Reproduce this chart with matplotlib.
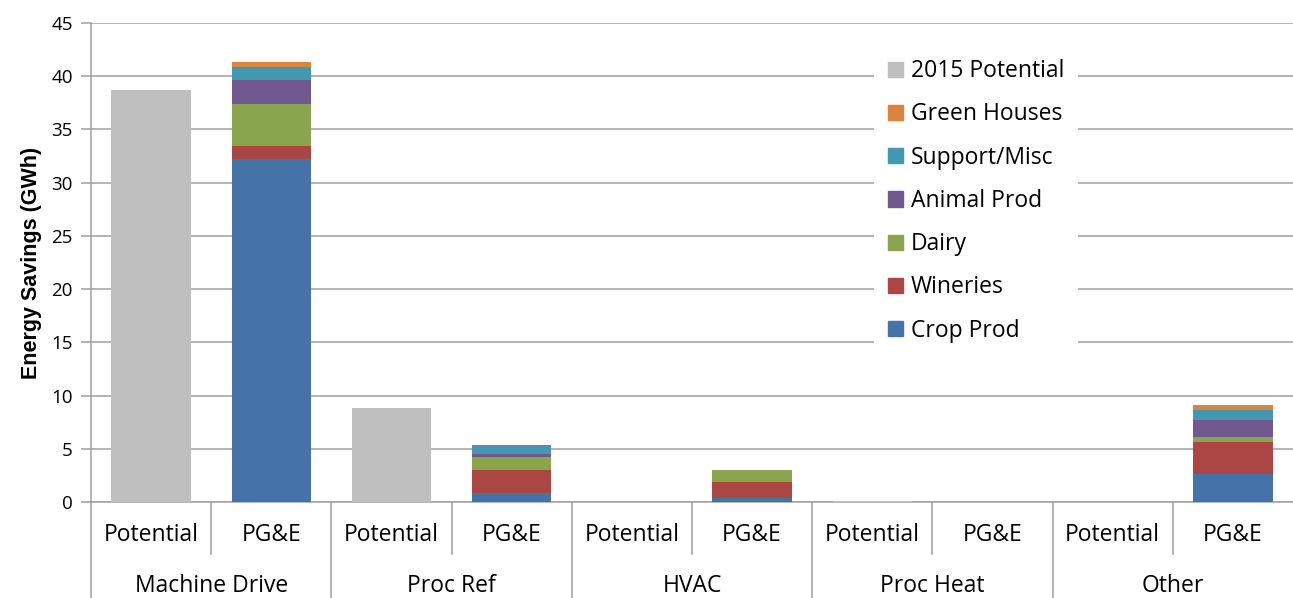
import matplotlib
matplotlib.use('Agg')
import matplotlib.pyplot as plt
import matplotlib.transforms as mtransforms
from matplotlib.patches import Patch
import numpy as np

plt.rcParams['font.family'] = ['Open Sans', 'DejaVu Sans']

# end uses and the two bars per end use
categories = ['Machine Drive', 'Proc Ref', 'HVAC', 'Proc Heat', 'Other']
bar_labels = ['Potential', 'PG&E']

# 2015 potential (GWh)
potential_2015 = [38.7, 8.8, 0.0, 0.1, 0.0]

# PG&E savings by segment (GWh)
crop_prod = [32.2, 0.85, 0.35, 0.0, 2.6]
wineries = [1.2, 2.15, 1.55, 0.0, 3.0]
dairy = [4.0, 1.25, 1.1, 0.0, 0.5]
animal_prod = [2.25, 0.3, 0.0, 0.0, 1.6]
support_misc = [1.2, 0.85, 0.0, 0.0, 0.95]
green_houses = [0.5, 0.0, 0.05, 0.0, 0.5]

segments = [
    ('Crop Prod', crop_prod, '#4572A7'),
    ('Wineries', wineries, '#AA4643'),
    ('Dairy', dairy, '#89A54E'),
    ('Animal Prod', animal_prod, '#71588F'),
    ('Support/Misc', support_misc, '#4198AF'),
    ('Green Houses', green_houses, '#DB843D'),
]
potential_color = '#BFBFBF'
axis_gray = '#A0A0A0'

fig = plt.figure(figsize=(12.93, 5.98), dpi=100)
ax = fig.add_axes([91 / 1293, 1 - 502 / 598, 1 - 91 / 1293, 479 / 598])

n = len(categories)
pot_x = np.arange(n) * 2
pge_x = pot_x + 1
width = 0.66

ax.bar(pot_x, potential_2015, width, color=potential_color, zorder=3)
bottom = np.zeros(n)
for name, vals, color in segments:
    ax.bar(pge_x, vals, width, bottom=bottom, color=color, zorder=3)
    bottom += np.array(vals)

ax.set_xlim(-0.5, 2 * n - 0.5)
ax.set_ylim(0, 45)
ax.set_yticks(np.arange(0, 46, 5))
ax.tick_params(axis='y', labelsize=13.5, length=7, width=1.1, color=axis_gray, pad=6)
ax.yaxis.grid(True, color=axis_gray, linewidth=1.1, zorder=0)
ax.set_xticks([])
for side in ['top', 'right']:
    ax.spines[side].set_visible(False)
for side in ['left', 'bottom']:
    ax.spines[side].set_color(axis_gray)
    ax.spines[side].set_linewidth(1.1)
ax.set_ylabel('Energy Savings (GWh)', fontsize=15.5, fontweight='bold',
              family=['Liberation Sans', 'DejaVu Sans'], labelpad=7)

# two-level category axis below the plot
trans = mtransforms.blended_transform_factory(ax.transData, ax.transAxes)
y_short = -52 / 479
y_long = -96 / 479
for i in range(2 * n):
    ax.text(i, -33 / 479, bar_labels[i % 2], transform=trans,
            ha='center', va='center', fontsize=16.5)
for g, name in enumerate(categories):
    ax.text(2 * g + 0.5, -84 / 479, name, transform=trans,
            ha='center', va='center', fontsize=16.5)
    ax.plot([2 * g - 0.5, 2 * g - 0.5], [0, y_long], transform=trans,
            color=axis_gray, linewidth=1.1, clip_on=False)
    ax.plot([2 * g + 0.5, 2 * g + 0.5], [0, y_short], transform=trans,
            color=axis_gray, linewidth=1.1, clip_on=False)

handles = [Patch(color=potential_color, label='2015 Potential')]
for name, vals, color in reversed(segments):
    handles.append(Patch(color=color, label=name))
leg = ax.legend(handles=handles, loc='upper left',
                bbox_to_anchor=(863 / 1293, 1 - 34 / 598),
                bbox_transform=fig.transFigure, fontsize=16.5,
                handlelength=0.65, handleheight=0.65, handletextpad=0.35,
                labelspacing=0.84, borderpad=0.6, fancybox=False,
                framealpha=1, edgecolor='none', facecolor='white')
leg.set_zorder(5)

fig.savefig('out.png', dpi=100)
